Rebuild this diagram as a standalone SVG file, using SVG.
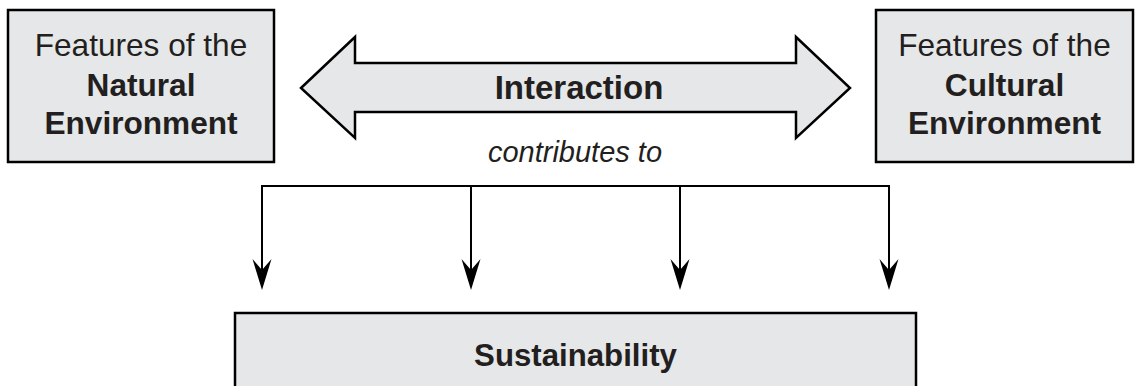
<svg xmlns="http://www.w3.org/2000/svg" width="1135" height="386" viewBox="0 0 1135 386">
<defs>
<style>
.box{fill:#e6e7e8;stroke:#000;stroke-width:2.5}
.t{font-family:"Liberation Sans",Arial,sans-serif;font-size:31.6px;fill:#231f20;text-anchor:middle}
.b{font-weight:bold}
.conn{fill:none;stroke:#000;stroke-width:2}
</style>
<marker id="ah" markerUnits="userSpaceOnUse" markerWidth="33" markerHeight="20" viewBox="0 0 33 20" refX="22" refY="10" orient="auto">
<path d="M1,0.5 L32,10 L1,19.5 L12,10 Z" fill="#000"/>
</marker>
</defs>
<rect width="1135" height="386" fill="#fff"/>
<g id="natural">
<rect class="box" x="8" y="10" width="266" height="152"/>
<text class="t" x="141" y="56">Features of the</text>
<text class="t b" x="141" y="96">Natural</text>
<text class="t b" x="141" y="134">Environment</text>
</g>
<g id="cultural">
<rect class="box" x="876" y="10" width="257" height="152"/>
<text class="t" x="1004.5" y="56">Features of the</text>
<text class="t b" x="1004.5" y="96">Cultural</text>
<text class="t b" x="1004.5" y="134">Environment</text>
</g>
<g id="interaction">
<polygon class="box" points="301,88 355,37 355,63 796,63 796,37 850,88 796,138 796,112 355,112 355,138"/>
<text class="t b" x="579" y="99" style="font-size:33px">Interaction</text>
</g>
<g id="contributes">
<text class="t" x="575" y="162" style="font-size:29px;font-style:italic">contributes to</text>
</g>
<g id="sustainability">
<rect class="box" x="235" y="313" width="681" height="90"/>
<text class="t b" x="575.5" y="366" style="font-size:31.2px">Sustainability</text>
</g>
<g id="connectors">
<path class="conn" d="M262,186 H889"/>
<path class="conn" d="M262,185 V280" marker-end="url(#ah)"/>
<path class="conn" d="M471,186 V280" marker-end="url(#ah)"/>
<path class="conn" d="M680,186 V280" marker-end="url(#ah)"/>
<path class="conn" d="M889,185 V280" marker-end="url(#ah)"/>
</g>
</svg>
